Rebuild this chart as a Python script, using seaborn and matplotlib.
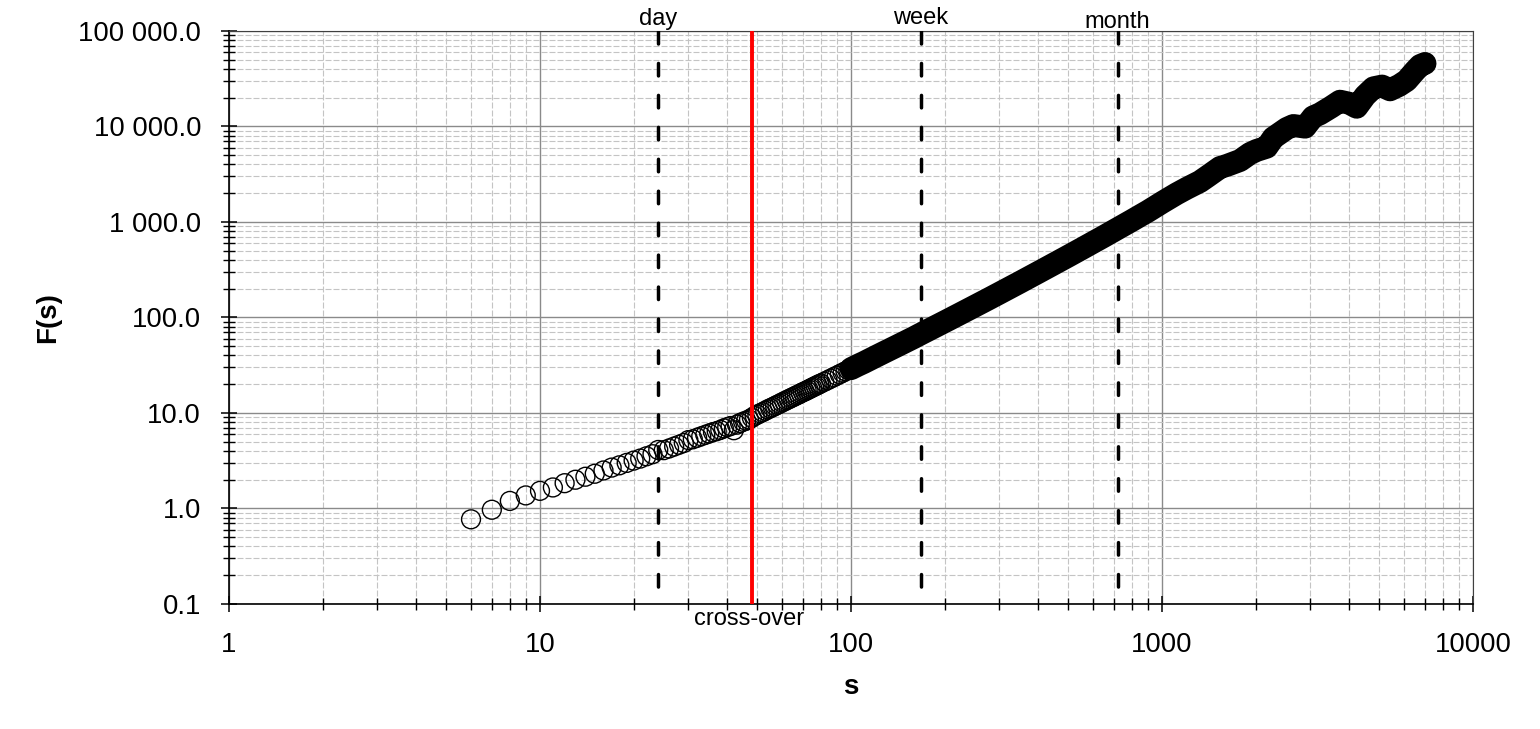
"""
DFA fluctuation function F(s) vs window size s, log-log.
Reference lines at day / week / month and the cross-over.
"""
import numpy as np
import matplotlib
matplotlib.use('Agg')
import matplotlib.pyplot as plt
from matplotlib.ticker import LogLocator, NullFormatter, FuncFormatter
import seaborn as sns

# ── data ──────────────────────────────────────────────────────
s_vals = [6, 7, 8, 9, 10, 11, 12, 13, 14, 15, 16, 17, 18, 19, 20,
          21, 22, 23, 24, 25, 26, 27, 28, 29, 30, 31, 32, 33, 34, 35,
          36, 37, 38, 39, 40, 41, 42, 43, 44, 45, 46, 47, 48, 49, 50,
          51, 52, 53, 54, 55, 56, 57, 58, 59, 60, 61, 62, 63, 64, 65,
          66, 67, 68, 69, 70, 71, 72, 73, 74, 75, 76, 77, 78, 79, 80,
          82, 84, 86, 88, 90, 92, 94, 96, 98, 100, 105, 110, 120, 130,
          140, 150, 160, 168, 180, 200, 225, 250, 275, 300, 350, 400, 450, 500, 550,
          600, 650, 720, 800, 850, 900, 1000, 1114, 1200, 1325, 1400, 1537, 1615, 1782, 1918,
          2014, 2172, 2280, 2518, 2644, 2885, 3060, 3222, 3500, 3735, 4000, 4227, 4500, 4784, 5100,
          5411, 5800, 6120, 6500, 6760, 7010]
F_vals = [0.77, 0.97, 1.20, 1.37, 1.53, 1.66, 1.84, 2.00, 2.15, 2.31, 2.50, 2.68, 2.83, 3.00, 3.17,
          3.33, 3.52, 3.70, 4.10, 4.08, 4.25, 4.45, 4.65, 4.85, 5.20, 5.30, 5.50, 5.70, 5.90, 6.10,
          6.30, 6.45, 6.65, 6.90, 7.10, 7.30, 6.60, 7.55, 7.85, 8.10, 8.30, 8.55, 8.90, 9.30, 9.61,
          9.92, 10.2, 10.55, 10.9, 11.2, 11.5, 11.85, 12.2, 12.5, 12.9, 13.2, 13.6, 13.9, 14.3, 14.6,
          15.0, 15.35, 15.7, 16.1, 16.5, 16.8, 17.2, 17.6, 18.0, 18.4, 18.8, 19.2, 19.6, 20.0, 20.4,
          21.2, 22.0, 22.9, 23.7, 24.6, 25.5, 26.4, 27.3, 28.2, 29.1, 31.5, 33.8, 39.0, 44.4,
          50.0, 55.9, 62.1, 67.5, 75.7, 90.2, 110, 131.5, 154.6, 179.6, 234.5, 296.5, 365, 440, 522,
          611, 706, 853, 1036, 1162, 1293, 1600, 1973, 2250, 2650, 3000, 3720, 3908, 4405, 5210,
          5610, 6070, 7620, 9530, 10240, 9840, 12600, 13580, 16000, 18400, 17500, 15900, 21000, 25400, 26500,
          24200, 27000, 30300, 38000, 43500, 45700]

marker_s = [24, 168, 720]
marker_labels = ['day', 'week', 'month']
marker_offsets = [4.3, 5.0, 2.2]
crossover_s = 48

# ── style ─────────────────────────────────────────────────────
sns.set_style('white')
plt.rcParams['font.family'] = ['Liberation Sans', 'DejaVu Sans']
plt.rcParams['text.color'] = 'black'
plt.rcParams['axes.labelcolor'] = 'black'
plt.rcParams['xtick.color'] = 'black'
plt.rcParams['ytick.color'] = 'black'

fig = plt.figure(figsize=(15.4, 7.29), dpi=100)
ax = fig.add_axes([0.1487, 0.1715, 0.8078, 0.7860])
ax.set_xscale('log')
ax.set_yscale('log')
ax.set_xlim(1, 10000)
ax.set_ylim(0.1, 100000)

# points: open circles, the dense upper part merges into a solid band
sns.scatterplot(x=s_vals, y=F_vals, ax=ax, marker='o', s=185, color='black',
                facecolor='none', edgecolor='black', linewidth=1.0, zorder=2)
s_arr = np.array(s_vals)
F_arr = np.array(F_vals)
hi = s_arr >= 100
sns.lineplot(x=s_arr[hi], y=F_arr[hi], ax=ax, color='black', lw=16.5, sort=False,
             estimator=None, solid_capstyle='round', solid_joinstyle='round', zorder=2)

# reference lines
for xs, lab, off in zip(marker_s, marker_labels, marker_offsets):
    ax.plot([xs, xs], [100000, 0.1], color='black', lw=2.5,
            ls=(0, (3.6, 5.6)), dash_capstyle='round', zorder=3)
    ax.annotate(lab, xy=(xs, 1.0), xycoords=('data', 'axes fraction'),
                xytext=(0, off), textcoords='offset points',
                ha='center', va='baseline', fontsize=17)
ax.plot([crossover_s, crossover_s], [100000, 0.1], color='#ff0000', lw=2.8, zorder=4)
ax.annotate('cross-over', xy=(crossover_s, 0.0), xycoords=('data', 'axes fraction'),
            xytext=(-2, -15.1), textcoords='offset points',
            ha='center', va='baseline', fontsize=17)

# grid
ax.set_axisbelow(True)
ax.grid(which='major', color='#8a8a8a', lw=1.0, ls='-')
ax.grid(which='minor', color='#c4c4c4', lw=0.8, ls=(0, (5.4, 1.8)))

# ticks
for axis in (ax.xaxis, ax.yaxis):
    axis.set_major_locator(LogLocator(base=10, numticks=20))
    axis.set_minor_locator(LogLocator(base=10, subs=np.arange(2, 10), numticks=200))
    axis.set_minor_formatter(NullFormatter())
ax.xaxis.set_major_formatter(FuncFormatter(lambda v, p: f'{v:.0f}'))
ax.yaxis.set_major_formatter(FuncFormatter(lambda v, p: f'{v:,.1f}'.replace(',', ' ')))
ax.tick_params(which='major', direction='inout', length=11.5, width=1.1,
               pad=14.4, labelsize=19.8, colors='black', left=True, bottom=True)
ax.tick_params(which='minor', direction='inout', length=8.5, width=1.0,
               colors='black', left=True, bottom=True)

for side in ('left', 'bottom'):
    ax.spines[side].set_color('black')
    ax.spines[side].set_linewidth(1.2)
for side in ('top', 'right'):
    ax.spines[side].set_color('#404040')
    ax.spines[side].set_linewidth(0.8)

ax.set_xlabel('s', fontsize=20, fontweight='bold', color='black')
ax.set_ylabel('F(s)', fontsize=20, fontweight='bold', color='black')
ax.xaxis.set_label_coords(0.5, -0.1222)
ax.yaxis.set_label_coords(-0.135, 0.5)

fig.savefig('out.png', dpi=100)
plt.close(fig)
